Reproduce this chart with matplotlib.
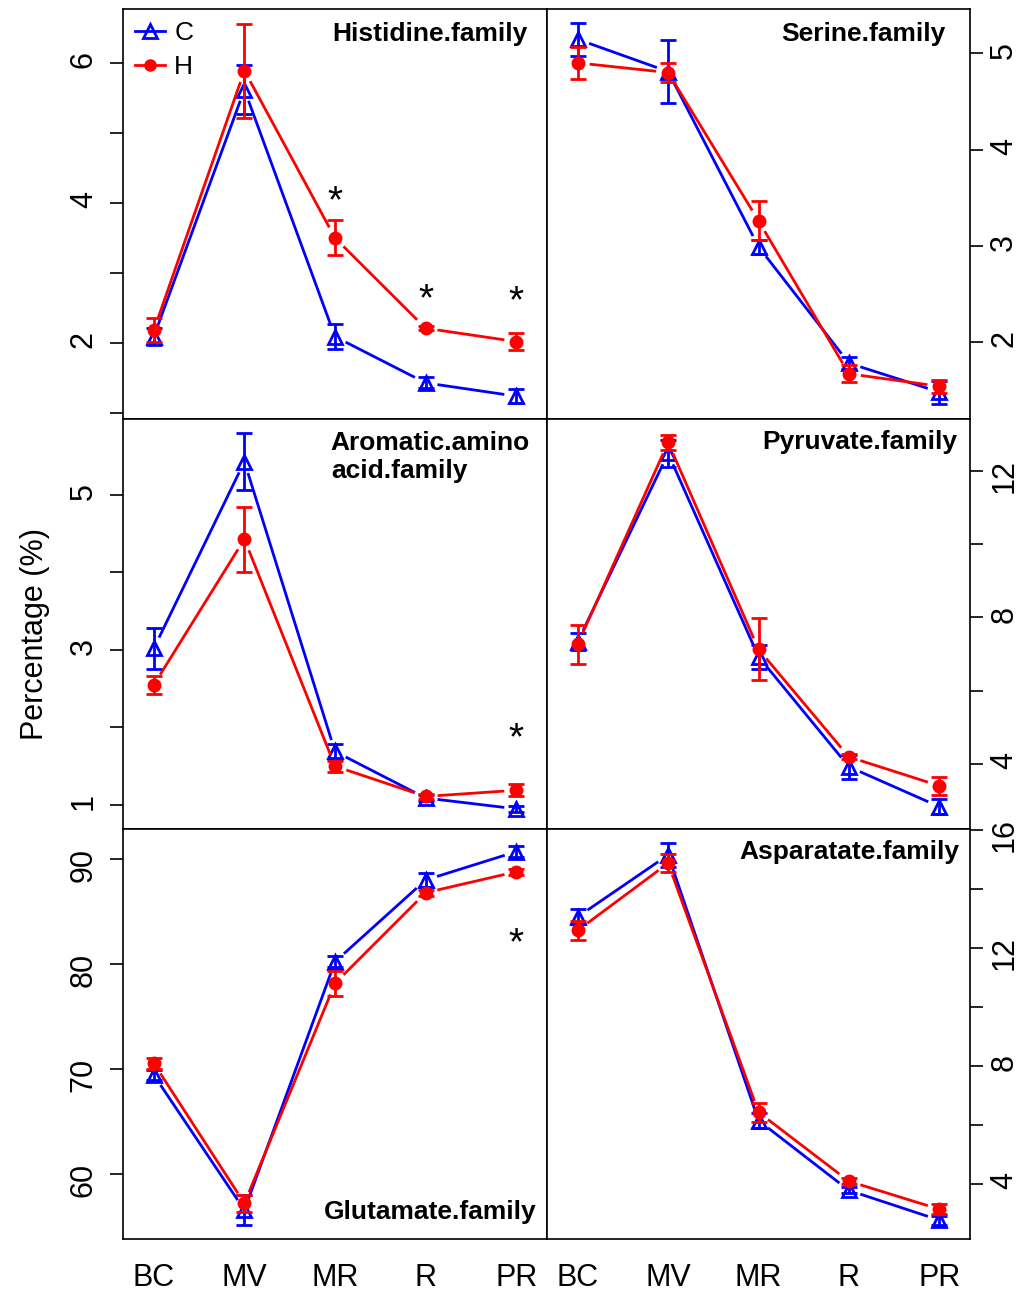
import numpy as np
import matplotlib
matplotlib.use("Agg")
import matplotlib.pyplot as plt
from matplotlib.lines import Line2D

plt.rcParams['font.family'] = ['Liberation Sans', 'DejaVu Sans']

stages = ["BC", "MV", "MR", "R", "PR"]

# Histidine.family
hist_C = [2.09, 5.62, 2.09, 1.43, 1.24]
hist_C_err = [0.12, 0.35, 0.18, 0.08, 0.10]
hist_H = [2.18, 5.89, 3.50, 2.21, 2.02]
hist_H_err = [0.17, 0.67, 0.25, 0.03, 0.12]

# Serine.family
ser_C = [5.145, 4.81, 2.99, 1.78, 1.48]
ser_C_err = [0.17, 0.33, 0.075, 0.06, 0.12]
ser_H = [4.90, 4.80, 3.26, 1.67, 1.54]
ser_H_err = [0.17, 0.10, 0.20, 0.09, 0.07]

# Aromatic.amino acid.family
arom_C = [3.02, 5.43, 1.69, 1.09, 0.95]
arom_C_err = [0.26, 0.37, 0.10, 0.04, 0.04]
arom_H = [2.55, 4.43, 1.50, 1.11, 1.19]
arom_H_err = [0.12, 0.42, 0.07, 0.03, 0.08]

# Pyruvate.family
pyr_C = [7.34, 12.48, 6.93, 3.92, 2.83]
pyr_C_err = [0.23, 0.36, 0.33, 0.33, 0.20]
pyr_H = [7.27, 12.78, 7.13, 4.19, 3.40]
pyr_H_err = [0.53, 0.20, 0.85, 0.07, 0.25]

# Glutamate.family
glu_C = [69.46, 56.6, 80.25, 88.03, 90.73]
glu_C_err = [0.5, 1.4, 0.5, 0.65, 0.5]
glu_H = [70.57, 57.24, 78.19, 86.82, 88.82]
glu_H_err = [0.55, 0.8, 1.2, 0.3, 0.3]

# Asparatate.family
asp_C = [13.05, 15.15, 6.14, 3.77, 2.76]
asp_C_err = [0.25, 0.40, 0.25, 0.10, 0.15]
asp_H = [12.59, 14.87, 6.42, 4.08, 3.13]
asp_H_err = [0.33, 0.30, 0.33, 0.10, 0.17]

# significance stars (stage index, y)
hist_star_x = [3, 4, 5]
hist_star_y = [4.19, 2.79, 2.76]
arom_star_x = [5]
arom_star_y = [2.0]
glu_star_x = [5]
glu_star_y = [83.1]

BLUE = "#0000FF"
RED = "#FF0000"
W, H = 1021, 1291

fig = plt.figure(figsize=(W / 100, H / 100), dpi=100)


def px_axes(x0, y0, x1, y1):
    return fig.add_axes([x0 / W, 1 - y1 / H, (x1 - x0) / W, (y1 - y0) / H])


def gapped_line(ax, x, y, color, gap=12):
    # like R type="b": line segments stop short of the points
    pts = ax.transData.transform(np.column_stack([x, y]))
    inv = ax.transData.inverted()
    for p0, p1 in zip(pts[:-1], pts[1:]):
        d = p1 - p0
        L = np.hypot(*d)
        if L <= 2 * gap:
            continue
        u = d / L
        seg = inv.transform(np.array([p0 + u * gap, p1 - u * gap]))
        ax.plot(seg[:, 0], seg[:, 1], color=color, lw=2.0, solid_capstyle='butt')


def panel(ax, c, ce, h, he, ylim, ticks, labels, title, tx, ty, right, bottom,
          va='center', ha='right'):
    x = np.arange(1, len(stages) + 1)
    ax.set_xlim(0.66, 5.34)
    ax.set_ylim(*ylim)
    for vals, errs, col, mk, mfc, ms in [(c, ce, BLUE, '^', 'none', 10),
                                         (h, he, RED, 'o', RED, 8)]:
        gapped_line(ax, x, vals, col)
        ax.errorbar(x, vals, yerr=errs, fmt='none', ecolor=col, elinewidth=2,
                    capsize=6, capthick=2)
        ax.plot(x, vals, ls='none', marker=mk, color=col, mfc=mfc, ms=ms, mew=2)
    ax.set_yticks(ticks)
    ax.set_yticklabels(labels)
    ax.tick_params(axis='y', labelrotation=90, labelsize=22, length=9.4,
                   width=1.2, pad=4.5 if right else 8)
    if right:
        ax.yaxis.tick_right()
    ax.set_xticks(x)
    if bottom:
        ax.set_xticklabels(stages)
        ax.tick_params(axis='x', length=0, labelsize=22, pad=17)
    else:
        ax.set_xticklabels([])
        ax.tick_params(axis='x', length=0)
    for s in ax.spines.values():
        s.set_linewidth(1.2)
    ax.text(tx, ty, title, transform=ax.transAxes, ha=ha, va=va,
            fontsize=19, fontweight='bold', multialignment='left',
            linespacing=1.2)


def stars(ax, sx, sy):
    for xi, yi in zip(sx, sy):
        ax.annotate("*", (xi, yi), xytext=(0, -16), textcoords='offset points',
                    ha='center', va='baseline', fontsize=28)


def lbl(vals, show):
    return [str(v) if v in show else "" for v in vals]


ax1 = px_axes(123, 9, 547, 419)
panel(ax1, hist_C, hist_C_err, hist_H, hist_H_err, (0.914, 6.77),
      [1, 2, 3, 4, 5, 6], lbl([1, 2, 3, 4, 5, 6], [2, 4, 6]),
      "Histidine.family", 0.955, 0.94, False, False)
stars(ax1, hist_star_x, hist_star_y)
handles = [Line2D([], [], color=BLUE, lw=2, marker='^', mfc='none', ms=10, mew=2),
           Line2D([], [], color=RED, lw=2, marker='o', ms=8)]
ax1.legend(handles, ["C", "H"], loc='upper left', frameon=False, fontsize=19,
           handlelength=1.15, handletextpad=0.34, labelspacing=0.4,
           borderaxespad=0.15, borderpad=0.3, bbox_to_anchor=(0.0, 1.0))

ax2 = px_axes(547, 9, 970, 419)
panel(ax2, ser_C, ser_C_err, ser_H, ser_H_err, (1.20, 5.46),
      [2, 3, 4, 5], ["2", "3", "4", "5"],
      "Serine.family", 0.941, 0.94, True, False)

ax3 = px_axes(123, 419, 547, 829)
panel(ax3, arom_C, arom_C_err, arom_H, arom_H_err, (0.69, 5.98),
      [1, 2, 3, 4, 5], lbl([1, 2, 3, 4, 5], [1, 3, 5]),
      "Aromatic.amino\nacid.family", 0.96, 0.907, False, False)
stars(ax3, arom_star_x, arom_star_y)

ax4 = px_axes(547, 419, 970, 829)
panel(ax4, pyr_C, pyr_C_err, pyr_H, pyr_H_err, (2.22, 13.42),
      [4, 6, 8, 10, 12], lbl([4, 6, 8, 10, 12], [4, 8, 12]),
      "Pyruvate.family", 0.969, 0.945, True, False)

ax5 = px_axes(123, 829, 547, 1239)
panel(ax5, glu_C, glu_C_err, glu_H, glu_H_err, (53.84, 92.89),
      [60, 70, 80, 90], ["60", "70", "80", "90"],
      "Glutamate.family", 0.976, 0.067, False, True)
stars(ax5, glu_star_x, glu_star_y)

ax6 = px_axes(547, 829, 970, 1239)
panel(ax6, asp_C, asp_C_err, asp_H, asp_H_err, (2.12, 16.03),
      [4, 6, 8, 10, 12, 14, 16], lbl([4, 6, 8, 10, 12, 14, 16], [4, 8, 12, 16]),
      "Asparatate.family", 0.974, 0.945, True, True)

fig.text(35 / W, 1 - 634 / H, "Percentage (%)", rotation=90, ha='center',
         va='center', fontsize=22)

fig.savefig("out.png", dpi=100)
